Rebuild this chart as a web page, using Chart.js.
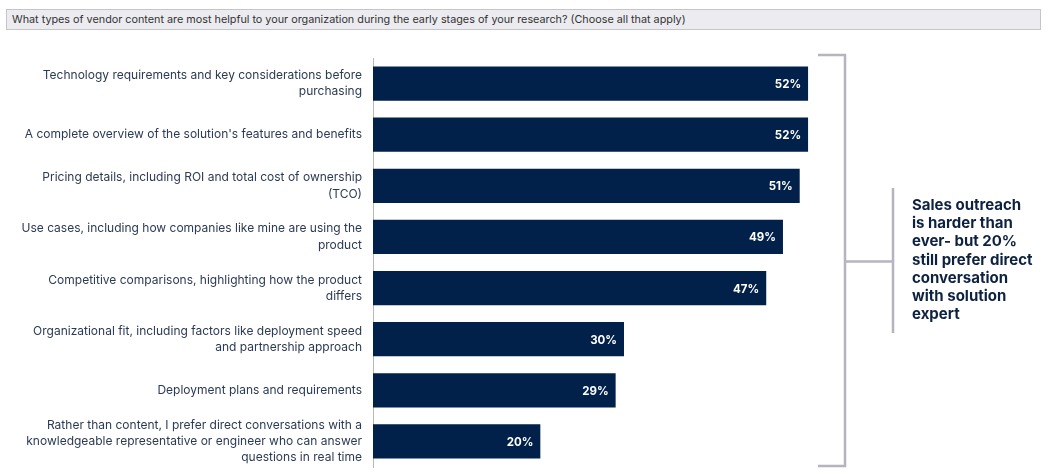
<!DOCTYPE html>
<html>
<head>
<meta charset="utf-8">
<script src="https://cdn.jsdelivr.net/npm/chart.js@4/dist/chart.umd.min.js"></script>
<style>
  body { margin: 0; background: #fff; font-family: "Inter", "Noto Sans", sans-serif; }
  #wrap { position: relative; width: 1059px; height: 472px; }
  #chart { position: absolute; left: 0; top: 0; }
  .question {
    position: absolute; left: 6px; top: 9px; width: 1035px; height: 21px;
    background: #ececf0; border: 1px solid #c4c4ca; box-sizing: border-box;
    font-size: 10.8px; color: #333; line-height: 19px; padding-left: 5px;
  }
  .note {
    position: absolute; left: 912px; top: 196px; width: 145px;
    font-size: 15px; font-weight: 700; color: #0d2240; line-height: 18.2px;
  }
</style>
</head>
<body>
<div id="wrap">
  <canvas id="chart" width="1059" height="472"></canvas>
  <div class="question">What types of vendor content are most helpful to your organization during the early stages of your research? (Choose all that apply)</div>
  <div class="note">Sales outreach<br>is harder than<br>ever- but 20%<br>still prefer direct<br>conversation<br>with solution<br>expert</div>
</div>
<script>
// Answer options (multi-line labels) and share of respondents
var categories = [
    ['Technology requirements and key considerations before', 'purchasing'],
    "A complete overview of the solution's features and benefits",
    ['Pricing details, including ROI and total cost of ownership', '(TCO)'],
    ['Use cases, including how companies like mine are using the', 'product'],
    ['Competitive comparisons, highlighting how the product', 'differs'],
    ['Organizational fit, including factors like deployment speed', 'and partnership approach'],
    'Deployment plans and requirements',
    ['Rather than content, I prefer direct conversations with a', 'knowledgeable representative or engineer who can answer', 'questions in real time']
];
var values = [52, 52, 51, 49, 47, 30, 29, 20];

// Draw the percentage inside the end of each bar
var valueLabels = {
    id: 'valueLabels',
    afterDatasetsDraw: function (chart) {
        var ctx = chart.ctx;
        var meta = chart.getDatasetMeta(0);
        ctx.save();
        ctx.fillStyle = '#ffffff';
        ctx.font = 'bold 11.5px Inter, "Noto Sans", sans-serif';
        ctx.textAlign = 'right';
        ctx.textBaseline = 'middle';
        meta.data.forEach(function (bar, i) {
            ctx.fillText(values[i] + '%', bar.x - 7, bar.y + 1);
        });
        ctx.restore();
    }
};

// Grey bracket on the right side of the bars
var bracket = {
    id: 'bracket',
    afterDraw: function (chart) {
        var ctx = chart.ctx;
        var top = chart.chartArea.top - 3;
        var bottom = chart.chartArea.bottom - 1;
        var mid = (top + bottom) / 2 + 1;
        ctx.save();
        ctx.strokeStyle = '#b5b5bf';
        ctx.lineWidth = 2.5;
        ctx.beginPath();
        ctx.moveTo(818, top);
        ctx.lineTo(845, top);
        ctx.lineTo(845, bottom);
        ctx.lineTo(818, bottom);
        ctx.moveTo(845, mid);
        ctx.lineTo(893, mid);
        ctx.moveTo(893, 188);
        ctx.lineTo(893, 333);
        ctx.stroke();
        ctx.restore();
    }
};

var chart = new Chart(document.getElementById('chart'), {
    type: 'bar',
    data: {
        labels: categories,
        datasets: [{
            data: values,
            backgroundColor: '#01214a',
            categoryPercentage: 0.67,
            barPercentage: 1
        }]
    },
    options: {
        indexAxis: 'y',
        responsive: false,
        animation: false,
        layout: { padding: { top: 58, bottom: 5, left: 0, right: 184 } },
        plugins: {
            legend: { display: false },
            tooltip: { enabled: false }
        },
        scales: {
            x: {
                display: false,
                min: 0,
                max: 60
            },
            y: {
                afterFit: function (scale) {
                    scale.width = 373;
                    scale.paddingTop = 0;
                    scale.paddingBottom = 0;
                },
                grid: { display: false, drawTicks: false },
                border: { display: true, color: '#b8b8b8', width: 1 },
                ticks: {
                    autoSkip: false,
                    color: '#2b3a55',
                    padding: 11,
                    font: { family: 'Inter, "Noto Sans", sans-serif', size: 12, lineHeight: 1.35 }
                }
            }
        }
    },
    plugins: [valueLabels, bracket]
});
</script>
</body>
</html>
